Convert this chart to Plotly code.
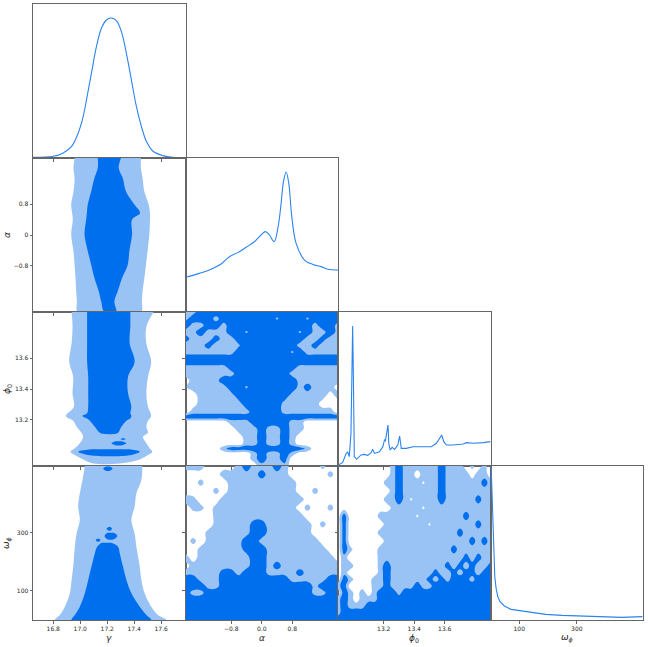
import plotly.graph_objects as go

DARK = "#006FED"
LIGHT = "#99C2F5"
LINE1D = "#2a83ef"
FRAME = "#666666"
TXT = "#262626"

# ---------------- parameters / axes ----------------
axis_titles = ["<i>γ</i>", "<i>α</i>", "<i>ϕ</i><sub>0</sub>", "<i>ω</i><sub><i>ϕ</i></sub>"]
axis_ranges = [[16.65, 17.78], [-2.0, 2.0], [12.9, 13.9], [0.0, 530.0]]
tick_vals = [[16.8, 17.0, 17.2, 17.4, 17.6], [-0.8, 0.0, 0.8], [13.2, 13.4, 13.6], [100, 300]]
tick_text_bottom = [["16.8", "17.0", "17.2", "17.4", "17.6"], ["−0.8", "0.0", "0.8"],
                    ["13.2", "13.4", "13.6"], ["100", "300"]]
tick_text_left = [["16.8", "17.0", "17.2", "17.4", "17.6"], ["−0.8", "0", "0.8"],
                  ["13.2", "13.4", "13.6"], ["100", "300"]]

# ---------------- 1D marginals ----------------
gamma_1d_x = [16.65, 16.80, 16.874, 16.936, 16.985, 17.022, 17.051, 17.083, 17.120, 17.157, 17.194,
              17.231, 17.268, 17.305, 17.342, 17.379, 17.416, 17.453, 17.490, 17.539, 17.613, 17.686, 17.78]
gamma_1d_p = [0.005, 0.012, 0.036, 0.083, 0.178, 0.297, 0.440, 0.606, 0.796, 0.927, 0.986,
              1.0, 0.981, 0.903, 0.748, 0.558, 0.368, 0.226, 0.119, 0.048, 0.017, 0.005, 0.002]

alpha_1d_x = [-2.0, -1.635, -1.373, -1.066, -0.848, -0.630, -0.410, -0.192, -0.017, 0.097, 0.202, 0.325,
              0.430, 0.508, 0.570, 0.640, 0.709, 0.788, 0.902, 1.121, 1.339, 1.558, 1.733, 2.0]
alpha_1d_p = [0.248, 0.276, 0.300, 0.343, 0.395, 0.424, 0.462, 0.502, 0.550, 0.574, 0.550, 0.502,
              0.610, 0.776, 0.931, 1.0, 0.919, 0.681, 0.490, 0.371, 0.340, 0.324, 0.305, 0.300]

phi_1d_x = [12.9, 12.930, 12.952, 12.963, 12.974, 12.985, 12.992, 12.996, 13.000, 13.007, 13.022, 13.051,
            13.073, 13.095, 13.117, 13.128, 13.139, 13.172, 13.194, 13.205, 13.211, 13.220, 13.228, 13.233,
            13.242, 13.255, 13.271, 13.292, 13.304, 13.315, 13.348, 13.391, 13.457, 13.512, 13.545, 13.567,
            13.580, 13.594, 13.611, 13.655, 13.721, 13.743, 13.787, 13.853, 13.9]
phi_1d_p = [0.007, 0.024, 0.086, 0.102, 0.067, 0.233, 0.710, 1.0, 0.710, 0.067, 0.048, 0.079,
            0.083, 0.076, 0.095, 0.119, 0.090, 0.102, 0.138, 0.186, 0.181, 0.233, 0.293, 0.162,
            0.114, 0.133, 0.119, 0.150, 0.214, 0.126, 0.126, 0.138, 0.138, 0.138, 0.162, 0.205,
            0.221, 0.174, 0.150, 0.150, 0.157, 0.167, 0.162, 0.167, 0.174]

omega_1d_x = [2.3, 5.7, 8.0, 11.5, 14.9, 19.5, 25.3, 33.3, 48.3, 71.3, 100, 134.5, 192, 249, 318, 387, 456, 528]
omega_1d_p = [1.095, 0.857, 0.619, 0.429, 0.310, 0.226, 0.167, 0.131, 0.100, 0.076, 0.067, 0.055,
              0.040, 0.033, 0.029, 0.021, 0.019, 0.024]

# ---------------- gamma - alpha contours ----------------
ga_alpha = [2.0, 1.74, 1.48, 1.13, 0.79, 0.57, 0.40, 0.01, -0.42, -0.77, -1.12, -1.46, -1.72, -2.0]
ga_out_lo = [16.958, 16.950, 16.958, 16.950, 16.933, 16.940, 16.945, 16.933, 16.950, 16.958, 16.965, 16.970, 16.975, 16.982]
ga_out_hi = [17.450, 17.450, 17.462, 17.475, 17.507, 17.517, 17.517, 17.512, 17.499, 17.487, 17.475, 17.462, 17.457, 17.450]
ga_in_lo = [17.130, 17.130, 17.105, 17.081, 17.056, 17.049, 17.044, 17.032, 17.056, 17.081, 17.105, 17.137, 17.155, 17.179]
ga_in_hi = [17.302, 17.285, 17.315, 17.339, 17.401, 17.443, 17.384, 17.384, 17.364, 17.352, 17.310, 17.278, 17.253, 17.265]

# ---------------- gamma - phi0 contours ----------------
gp_phi_out = [13.90, 13.805, 13.697, 13.577, 13.48, 13.372, 13.285, 13.225, 13.194, 13.155, 13.116, 13.09,
              13.047, 13.015, 12.993, 12.971, 12.943, 12.917]
gp_out_lo = [16.936, 16.943, 16.936, 16.918, 16.948, 16.943, 16.953, 16.894, 16.948, 16.973, 17.009, 17.022,
             16.997, 16.960, 16.928, 16.960, 17.022, 17.096]
gp_out_hi = [17.544, 17.490, 17.490, 17.526, 17.502, 17.490, 17.502, 17.526, 17.502, 17.490, 17.502, 17.465,
             17.490, 17.514, 17.534, 17.502, 17.441, 17.293]
gp_phi_in = [13.90, 13.805, 13.697, 13.577, 13.48, 13.372, 13.285, 13.242, 13.225, 13.208, 13.194, 13.155, 13.116, 13.107]
gp_in_lo = [17.051, 17.051, 17.051, 17.051, 17.059, 17.059, 17.059, 17.051, 17.017, 17.051, 17.071, 17.108, 17.145, 17.194]
gp_in_hi = [17.371, 17.371, 17.366, 17.403, 17.354, 17.354, 17.379, 17.371, 17.379, 17.371, 17.342, 17.305, 17.280, 17.243]
gp_dark_blobs = [
    ([13.060, 13.047, 13.035], [17.26, 17.231, 17.26], [17.31, 17.342, 17.31]),
    ([13.080, 13.075, 13.070], [17.31, 17.300, 17.31], [17.325, 17.335, 17.325]),
    ([13.008, 12.993, 12.970], [17.083, 16.985, 17.071], [17.366, 17.441, 17.366]),
]

# ---------------- gamma - omega contours ----------------
gw_w_out = [530, 482, 436, 390, 344, 298, 252, 183, 138, 92, 46, 17, 0]
gw_out_lo = [17.034, 17.017, 16.997, 16.985, 16.997, 16.973, 16.960, 16.948, 16.936, 16.923, 16.886, 16.849, 16.812]
gw_out_hi = [17.460, 17.453, 17.416, 17.403, 17.379, 17.403, 17.416, 17.441, 17.453, 17.477, 17.526, 17.576, 17.637]
gw_w_in = [266, 252, 229, 183, 138, 92, 46, 17, 0]
gw_in_lo = [17.157, 17.125, 17.108, 17.083, 17.059, 17.034, 16.997, 16.960, 16.936]
gw_in_hi = [17.231, 17.280, 17.293, 17.317, 17.342, 17.379, 17.441, 17.490, 17.526]
gw_dark_blobs = [
    ([528, 521, 514], [17.19, 17.17, 17.19], [17.22, 17.24, 17.22]),
    ([300, 289, 278], [17.20, 17.18, 17.20], [17.25, 17.275, 17.25]),
    ([320, 314, 308], [17.21, 17.195, 17.21], [17.225, 17.235, 17.225]),
    ([280, 275, 270], [17.125, 17.115, 17.125], [17.14, 17.15, 17.14]),
]

# ---------------- noisy panels: smoothed density index grids ----------------
# 0 = outside, ~5 = inside 95% region, 9 = inside 68% region (contours at 2.5 and 6.5)
alpha_grid = [round(-2.0 + 0.2 * k, 2) for k in range(21)]
phi_grid = [round(12.9 + 0.04 * k, 2) for k in range(26)]

ap_phi = [13.9, 13.857, 13.813, 13.77, 13.727, 13.684, 13.64, 13.597, 13.571, 13.543, 13.5, 13.456, 13.413,
          13.359, 13.305, 13.251, 13.218, 13.186, 13.142, 13.088, 13.045, 13.013, 12.98, 12.948, 12.9]
ap_levels = [
    "55999 99999 99999 99999 9",
    "59995 99999 99699 96999 9",
    "95599 59999 99999 99599 5",
    "55955 59969 99999 69559 5",
    "85558 55999 99999 95585 5",
    "55585 55699 99999 55855 5",
    "55555 55999 99996 95555 5",
    "99999 99999 99999 99999 9",
    "99999 99999 99999 99999 9",
    "55555 59999 99999 55555 5",
    "55555 55999 99995 55555 5",
    "05555 99999 99999 55555 5",
    "25555 59969 99999 58555 0",
    "00555 55999 99995 55550 5",
    "00555 55599 99955 55500 0",
    "05555 55559 99955 55555 0",
    "99999 99999 99999 99999 9",
    "00000 05559 99995 50000 0",
    "00000 00555 95595 50000 0",
    "00000 00055 95595 00000 0",
    "00000 00055 95595 00000 0",
    "00000 59999 99999 95000 0",
    "00000 00005 95595 00000 0",
    "00000 00005 95590 00000 0",
    "00000 00000 55550 00000 0",
]

aw_omega = [530, 501.3, 472.6, 444, 415.3, 386.6, 357.9, 329.2, 300.5, 271.9, 243.2, 214.5, 185.8,
            163, 140, 117, 94, 71, 48, 25, 0]
aw_levels = [
    "55500 00595 55950 00040 0",
    "00000 55555 85550 00004 0",
    "00400 05555 55555 00000 0",
    "00004 05555 55555 00400 0",
    "54000 55555 55555 50000 0",
    "04404 55555 55555 04004 0",
    "00004 55555 55555 50000 0",
    "00004 55558 85555 55040 0",
    "00045 55559 95555 55000 0",
    "04045 55599 55555 55500 0",
    "00455 55589 95555 55550 0",
    "50555 55559 95555 55555 0",
    "05555 55559 95855 55555 5",
    "55555 88599 95555 85555 5",
    "99555 99999 99995 55559 9",
    "99955 99999 99999 99599 9",
    "95599 99999 99999 99559 9",
    "99999 99999 99999 99999 9",
    "99999 99999 99999 99999 9",
    "99999 99999 99999 99999 9",
    "99999 99999 99999 99999 9",
]

pw_omega = [530, 501.3, 472.6, 444, 415.3, 386.6, 357.9, 329.2, 300.5, 271.9, 243.2, 214.5, 185.8,
            163, 140, 117, 94, 71, 48, 25, 0]
pw_levels = [
    "00000 00005 95555 55955 50404 0",
    "00000 00005 95505 55955 55055 0",
    "00000 00055 95552 55955 55558 5",
    "00000 00005 95555 55955 55555 5",
    "00000 00055 95255 55955 55585 5",
    "00000 00004 55552 55555 55555 5",
    "09000 00555 55525 55555 58555 5",
    "09000 00055 55555 25555 55585 5",
    "09000 00555 55555 55555 85555 5",
    "09000 00055 55555 55555 55858 5",
    "09400 00555 55555 55558 55555 5",
    "05000 00555 55555 55555 58585 5",
    "05500 00595 55555 55585 85855 8",
    "05000 00595 55555 58558 58858 9",
    "09500 05595 55555 85859 98599 9",
    "59000 05595 55595 59999 99999 9",
    "09505 05999 59999 99999 99999 9",
    "59505 55999 99999 99999 99999 9",
    "59555 99999 99999 99999 99999 9",
    "59999 99999 99999 99999 99999 9",
    "99999 99999 99999 99999 99999 9",
]

# ---------------- build figure ----------------
fig = go.Figure()
ids = {}
k = 0
for r in range(4):
    for c in range(r + 1):
        k += 1
        ids[(r, c)] = k


def refs(r, c):
    n = ids[(r, c)]
    return ("x" if n == 1 else f"x{n}"), ("y" if n == 1 else f"y{n}")


def add_poly(r, c, lv, lo, hi, color):
    xr, yr = refs(r, c)
    xs = list(lo) + list(hi)[::-1]
    ys = list(lv) + list(lv)[::-1]
    fig.add_trace(go.Scatter(x=xs, y=ys, mode="lines", fill="toself", fillcolor=color,
                             line=dict(width=0, shape="spline", smoothing=1.0),
                             hoverinfo="skip", xaxis=xr, yaxis=yr))


def parse(rows, ncol):
    out = []
    for s in rows:
        v = [int(ch) for ch in s.replace(" ", "")]
        v = (v + [v[-1]] * ncol)[:ncol]
        out.append(v)
    return out


def add_levels(r, c, xg, yl, rows):
    xr, yr = refs(r, c)
    z = parse(rows, len(xg))
    fig.add_trace(go.Contour(x=xg, y=list(yl)[::-1], z=z[::-1], autocontour=False,
                             contours=dict(start=2.5, end=6.5, size=4, coloring="fill", showlines=False),
                             colorscale=[[0, "rgba(255,255,255,0)"], [0.5, LIGHT], [1, DARK]],
                             line=dict(width=0, smoothing=1.3), showscale=False, hoverinfo="skip",
                             xaxis=xr, yaxis=yr))


def add_1d(c, xs, ps, shape):
    xr, yr = refs(c, c)
    fig.add_trace(go.Scatter(x=xs, y=ps, mode="lines", line=dict(color=LINE1D, width=1.1, shape=shape),
                             hoverinfo="skip", xaxis=xr, yaxis=yr))


# diagonal
add_1d(0, gamma_1d_x, gamma_1d_p, "spline")
add_1d(1, alpha_1d_x, alpha_1d_p, "spline")
add_1d(2, phi_1d_x, phi_1d_p, "linear")
add_1d(3, omega_1d_x, omega_1d_p, "linear")

# gamma column
add_poly(1, 0, ga_alpha, ga_out_lo, ga_out_hi, LIGHT)
add_poly(1, 0, ga_alpha, ga_in_lo, ga_in_hi, DARK)
add_poly(2, 0, gp_phi_out, gp_out_lo, gp_out_hi, LIGHT)
add_poly(2, 0, gp_phi_in, gp_in_lo, gp_in_hi, DARK)
for lv, lo, hi in gp_dark_blobs:
    add_poly(2, 0, lv, lo, hi, DARK)
add_poly(3, 0, gw_w_out, gw_out_lo, gw_out_hi, LIGHT)
add_poly(3, 0, gw_w_in, gw_in_lo, gw_in_hi, DARK)
for lv, lo, hi in gw_dark_blobs:
    add_poly(3, 0, lv, lo, hi, DARK)

# noisy panels
add_levels(2, 1, alpha_grid, ap_phi, ap_levels)
add_levels(3, 1, alpha_grid, aw_omega, aw_levels)
add_levels(3, 2, phi_grid, pw_omega, pw_levels)

# axes
layout = {}
for (r, c), n in ids.items():
    xs = "xaxis" if n == 1 else f"xaxis{n}"
    ys = "yaxis" if n == 1 else f"yaxis{n}"
    xa_ref, ya_ref = refs(r, c)
    base = dict(showline=True, mirror=True, linecolor=FRAME, linewidth=1, showgrid=False, zeroline=False,
                ticks="outside", ticklen=2.5, tickwidth=0.8, tickcolor=FRAME, automargin=False,
                tickfont=dict(family="DejaVu Sans", size=6, color=TXT), fixedrange=True)
    layout[xs] = dict(base, domain=[c / 4, (c + 1) / 4], range=axis_ranges[c], tickmode="array",
                      tickvals=tick_vals[c], ticktext=tick_text_bottom[c], showticklabels=(r == 3),
                      anchor=ya_ref)
    if r == c:
        layout[ys] = dict(base, domain=[1 - (r + 1) / 4, 1 - r / 4], range=[0, 1.1], ticks="",
                          showticklabels=False, anchor=xa_ref)
    else:
        layout[ys] = dict(base, domain=[1 - (r + 1) / 4, 1 - r / 4], range=axis_ranges[r], tickmode="array",
                          tickvals=tick_vals[r], ticktext=tick_text_left[r], showticklabels=(c == 0),
                          anchor=xa_ref)

annotations = []
for c in range(4):
    annotations.append(dict(text=axis_titles[c], x=(c + 0.5) / 4, y=-18 / 616, xref="paper", yref="paper",
                            showarrow=False, xanchor="center", yanchor="middle",
                            font=dict(family="DejaVu Sans", size=9, color=TXT)))
for r in range(1, 4):
    annotations.append(dict(text=axis_titles[r], x=-26 / 610, y=1 - (r + 0.5) / 4, xref="paper", yref="paper",
                            showarrow=False, xanchor="center", yanchor="middle", textangle=-90,
                            font=dict(family="DejaVu Sans", size=9, color=TXT)))

fig.update_layout(width=648, height=647, margin=dict(l=33, r=5, t=4, b=27), paper_bgcolor="white",
                  plot_bgcolor="white", showlegend=False, annotations=annotations, **layout)

fig.write_html("out.html", config={"displayModeBar": False},
               post_script="document.body.style.margin='0px';")
